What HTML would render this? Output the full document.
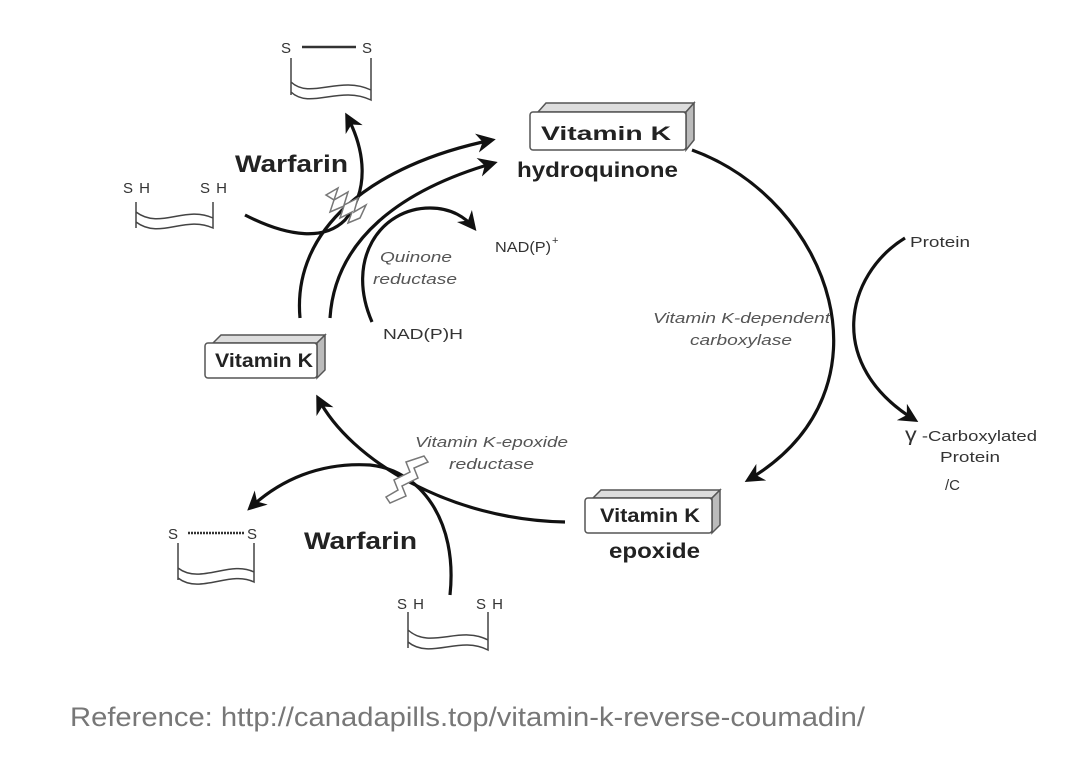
<!DOCTYPE html>
<html><head><meta charset="utf-8"><style>
body{margin:0;background:#fff;width:1077px;height:780px;overflow:hidden}
svg{display:block}
text{font-family:"Liberation Sans",Arial,sans-serif}
</style></head><body>
<svg width="1077" height="780" viewBox="0 0 1077 780">
<defs>
<marker id="ah" viewBox="0 0 10 10" refX="8" refY="5" markerWidth="6" markerHeight="6" orient="auto"><path d="M0,0 L10,5 L0,10 L3,5 z" fill="#111"/></marker>
</defs>
<g fill="none" stroke="#111" stroke-width="3.2" marker-end="url(#ah)">
<path d="M692,150 C830,200 900,390 748,480"/>
<path d="M905,238 C845,275 825,365 915,420"/>
<path d="M565,522 C450,520 350,460 318,398"/>
<path d="M450,595 C458,520 420,470 370,465 C320,462 280,480 250,508"/>
<path d="M300,318 C292,230 370,165 492,140"/>
<path d="M330,318 C335,240 400,190 494,163"/>
<path d="M372,322 C345,260 380,208 430,208 C452,208 466,218 474,228"/>
<path d="M245,215 C290,238 325,240 345,220 C370,190 365,150 347,116"/>
</g>
<g fill="#fff" stroke="#777" stroke-width="1.5">
<path d="M326,195 L338,188 L334,200 L348,192 L344,205 L358,198 L354,212 L366,205 L360,218 L348,223 L352,212 L340,218 L344,206 L330,212 L334,200 Z"/>
<path d="M386,497 L398,490 L394,480 L410,472 L406,462 L424,456 L428,462 L414,468 L418,478 L402,486 L406,496 L390,503 Z"/>
</g>
<g stroke="#555" stroke-width="1.5">
<path d="M538,112 L546,103 L694,103 L686,112 Z" fill="#ddd"/><path d="M686,112 L694,103 L694,140 L686,150 Z" fill="#bbb"/>
<rect x="530" y="112" width="156" height="38" rx="3" fill="#fff"/>
<path d="M213,343 L221,335 L325,335 L317,343 Z" fill="#ddd"/><path d="M317,343 L325,335 L325,370 L317,378 Z" fill="#bbb"/>
<rect x="205" y="343" width="112" height="35" rx="3" fill="#fff"/>
<path d="M593,498 L601,490 L720,490 L712,498 Z" fill="#ddd"/><path d="M712,498 L720,490 L720,525 L712,533 Z" fill="#bbb"/>
<rect x="585" y="498" width="127" height="35" rx="3" fill="#fff"/>
</g>
<g fill="none" stroke="#444" stroke-width="1.5">
<path d="M291,58 L291,95 M371,58 L371,95 M291,82 C310,100 340,75 371,90 L371,100 C340,85 310,110 291,92"/>
<path d="M136,202 L136,228 M213,202 L213,222 M136,212 C160,230 185,205 213,218 L213,228 C185,215 160,240 136,222 Z"/>
<path d="M178,543 L178,580 M254,543 L254,580 M178,568 C200,585 230,560 254,572 L254,582 C230,570 200,595 178,578"/>
<path d="M408,612 L408,648 M488,612 L488,648 M408,630 C430,650 460,625 488,640 L488,650 C460,635 430,660 408,642"/>
</g>
<g stroke="#333" stroke-width="2.5"><line x1="302" y1="47" x2="356" y2="47"/><line x1="188" y1="533" x2="244" y2="533" stroke-dasharray="2 1"/></g>
<g fill="#333" font-size="15" lengthAdjust="spacingAndGlyphs">
<text x="281" y="53">S</text><text x="362" y="53">S</text>
<text x="123" y="193" textLength="27">SH</text><text x="200" y="193" textLength="27">SH</text>
<text x="168" y="539">S</text><text x="247" y="539">S</text>
<text x="397" y="609" textLength="27">SH</text><text x="476" y="609" textLength="27">SH</text>
<text x="495" y="252" textLength="56" lengthAdjust="spacingAndGlyphs">NAD(P)</text><text x="552" y="244" font-size="11">+</text>
<text x="383" y="339" textLength="80" lengthAdjust="spacingAndGlyphs">NAD(P)H</text>
<text x="910" y="247" textLength="60" lengthAdjust="spacingAndGlyphs">Protein</text>
<text x="905" y="441" textLength="132" lengthAdjust="spacingAndGlyphs"><tspan font-size="19">γ</tspan> -Carboxylated</text>
<text x="940" y="462" textLength="60" lengthAdjust="spacingAndGlyphs">Protein</text>
<text x="945" y="490">/C</text>
</g>
<g fill="#555" font-size="15" font-style="italic">
<text x="380" y="262" textLength="72" lengthAdjust="spacingAndGlyphs">Quinone</text>
<text x="373" y="284" textLength="84" lengthAdjust="spacingAndGlyphs">reductase</text>
<text x="653" y="323" textLength="177" lengthAdjust="spacingAndGlyphs">Vitamin K-dependent</text>
<text x="690" y="345" textLength="102" lengthAdjust="spacingAndGlyphs">carboxylase</text>
<text x="415" y="447" textLength="153" lengthAdjust="spacingAndGlyphs">Vitamin K-epoxide</text>
<text x="449" y="469" textLength="85" lengthAdjust="spacingAndGlyphs">reductase</text>
</g>
<g font-weight="bold" fill="#222">
<text x="541" y="140" font-size="19" textLength="130" lengthAdjust="spacingAndGlyphs">Vitamin K</text>
<text x="215" y="367" font-size="19" textLength="98" lengthAdjust="spacingAndGlyphs">Vitamin K</text>
<text x="600" y="522" font-size="19" textLength="100" lengthAdjust="spacingAndGlyphs">Vitamin K</text>
<text x="517" y="177" font-size="21" textLength="161" lengthAdjust="spacingAndGlyphs">hydroquinone</text>
<text x="609" y="558" font-size="21" textLength="91" lengthAdjust="spacingAndGlyphs">epoxide</text>
<text x="235" y="172" font-size="24" textLength="113" lengthAdjust="spacingAndGlyphs">Warfarin</text>
<text x="304" y="549" font-size="24" textLength="113" lengthAdjust="spacingAndGlyphs">Warfarin</text>
</g>
<text x="70" y="726" font-size="27" fill="#777" textLength="795" lengthAdjust="spacingAndGlyphs">Reference: http://canadapills.top/vitamin-k-reverse-coumadin/</text>
</svg>
</body></html>
